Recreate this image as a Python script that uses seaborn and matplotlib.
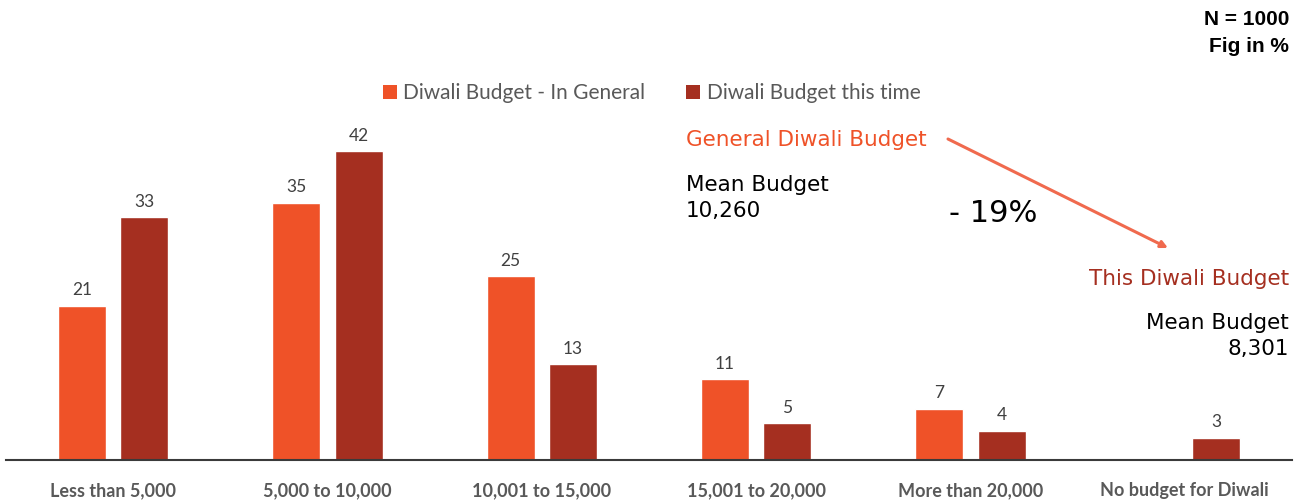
import numpy as np
import pandas as pd
import matplotlib
matplotlib.use("Agg")
import matplotlib.pyplot as plt
from matplotlib.patches import Patch, FancyArrowPatch
import seaborn as sns

# Budget brackets (INR) and share of respondents in each, in %
categories = ["Less than 5,000", "5,000 to 10,000", "10,001 to 15,000",
              "15,001 to 20,000", "More than 20,000", "No budget for Diwali"]
budget_general = [21, 35, 25, 11, 7, None]
budget_this_time = [33, 42, 13, 5, 4, 3]
series_names = ["Diwali Budget - In General", "Diwali Budget this time"]

mean_general = "10,260"
mean_this_time = "8,301"
change_label = "- 19%"

ORANGE = "#EF5228"
DARK_RED = "#A52F20"
GRAY_TEXT = "#595959"

sns.set_theme(style="white")
plt.rcParams["font.family"] = ["Lato", "DejaVu Sans"]

rows = []
for cat, g, t in zip(categories, budget_general, budget_this_time):
    if g is not None:
        rows.append({"bracket": cat, "series": series_names[0], "pct": g})
    rows.append({"bracket": cat, "series": series_names[1], "pct": t})
df = pd.DataFrame(rows)

fig = plt.figure(figsize=(13.05, 5.04), dpi=100)
ax = fig.add_axes([6 / 1305, 44 / 504, 1286 / 1305, 441 / 504])

sns.barplot(data=df, x="bracket", y="pct", hue="series", order=categories,
            hue_order=series_names, palette=[ORANGE, DARK_RED],
            width=0.58, gap=0.23, errorbar=None, legend=False, ax=ax,
            saturation=1)

for cont in ax.containers:
    ax.bar_label(cont, fmt="%d", padding=5.5, fontsize=12.5, color="#404040")

ax.set_xlim(-0.5, 5.5)
ax.set_ylim(0, 60)
ax.set_xlabel("")
ax.set_ylabel("")
ax.set_yticks([])
for side in ["top", "left", "right"]:
    ax.spines[side].set_visible(False)
ax.spines["bottom"].set_color("#3a3a3a")
ax.spines["bottom"].set_linewidth(1.5)
ax.tick_params(axis="x", length=0, pad=16)
for lbl in ax.get_xticklabels():
    lbl.set_fontsize(13)
    lbl.set_fontweight("bold")
    lbl.set_color(GRAY_TEXT)

# Legend
handles = [Patch(facecolor=ORANGE, edgecolor="none"),
           Patch(facecolor=DARK_RED, edgecolor="none")]
fig.legend(handles, series_names, loc="center left",
           bbox_to_anchor=(383 / 1305, 1 - 93 / 504), ncol=2, frameon=False,
           borderpad=0, borderaxespad=0,
           handlelength=0.68, handleheight=0.68, handletextpad=0.3,
           columnspacing=1.95, prop={"size": 15},
           labelcolor=GRAY_TEXT)

# Mean budget annotations
sans = ["DejaVu Sans"]
fig.text(686 / 1305, 1 - 140 / 504, "General Diwali Budget", color=ORANGE,
         fontsize=15.5, family=sans, va="center", ha="left")
fig.text(686 / 1305, 1 - 198 / 504, "Mean Budget\n" + mean_general,
         color="black", fontsize=15.5, family=sans, va="center", ha="left",
         linespacing=1.42)
fig.text(993 / 1305, 1 - 214 / 504, change_label, color="black",
         fontsize=22, family=sans, va="center", ha="center")
fig.text(1289 / 1305, 1 - 279 / 504, "This Diwali Budget", color=DARK_RED,
         fontsize=15.5, family=sans, va="center", ha="right")
fig.text(1289 / 1305, 1 - 336 / 504, "Mean Budget\n" + mean_this_time,
         color="black", fontsize=15.5, family=sans, va="center", ha="right",
         multialignment="right", linespacing=1.42)
fig.text(1289 / 1305, 1 - 33 / 504, "N = 1000\nFig in %", color="black",
         fontsize=15, family=["Liberation Sans", "DejaVu Sans"],
         fontweight="bold", va="center", ha="right",
         multialignment="right", linespacing=1.5)

fig.add_artist(FancyArrowPatch(
    (948 / 1305, 1 - 139 / 504), (1168 / 1305, 1 - 248 / 504),
    transform=fig.transFigure, arrowstyle="-|>", mutation_scale=10,
    color="#F06A4E", linewidth=2.2, shrinkA=0, shrinkB=0))

fig.savefig("out.png", dpi=100)
